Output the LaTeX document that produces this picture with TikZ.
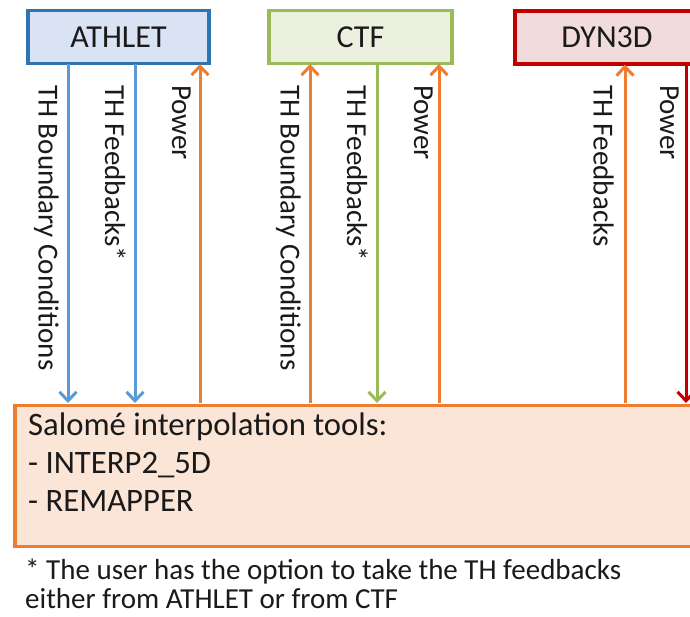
\documentclass[tikz,border=0pt]{standalone}
\usepackage{fontspec}
\setmainfont{Carlito}
\usetikzlibrary{arrows.meta}
\definecolor{athfill}{HTML}{DAE3F3}
\definecolor{athdraw}{HTML}{2E75B6}
\definecolor{blu}{HTML}{5B9BD5}
\definecolor{ctffill}{HTML}{EBF1DE}
\definecolor{ctfdraw}{HTML}{9BBB59}
\definecolor{dynfill}{HTML}{F2DCDB}
\definecolor{dyndraw}{HTML}{C00000}
\definecolor{org}{HTML}{ED7D31}
\definecolor{salfill}{HTML}{FBE5D6}
\definecolor{txt}{HTML}{1A1A1A}
\tikzset{
  codebox/.style={draw, line width=3.5pt, minimum height=53pt, text=txt, font=\fontsize{32}{38}\selectfont, inner sep=0pt},
  lab/.style={rotate=-90, anchor=north west, inner sep=0pt, text=txt, font=\fontsize{29}{34}\selectfont},
  conn/.style={line width=3pt, -{Straight Barb[length=9pt,width=17pt,line width=3pt]}}
}
\begin{document}
\begin{tikzpicture}[x=1pt,y=-1pt]
\useasboundingbox (0,0) rectangle (690,616);
\clip (0,0) rectangle (690,616);
\fill[white] (0,0) rectangle (690,616);
% boxes
\node[codebox, fill=athfill, draw=athdraw, minimum width=181pt] (ath) at (118.5,37) {ATHLET};
\node[codebox, fill=ctffill, draw=ctfdraw, minimum width=183pt] (ctf) at (360.5,37) {CTF};
\node[codebox, fill=dynfill, draw=dyndraw, minimum width=184pt] (dyn) at (607,37.5) {DYN3D};
\node[draw=org, fill=salfill, line width=3.5pt, minimum width=700pt, minimum height=141pt, anchor=north west, inner sep=0pt] (sal) at (13,403.5) {};
\node[anchor=north west, align=left, inner sep=0pt, text=txt, font=\fontsize{32.7}{38}\selectfont] (saltext) at (28,413)
  {Salomé interpolation tools:\\- INTERP2\_5D\\- REMAPPER};
% connector coordinates
\coordinate (a1t) at (68,64);  \coordinate (a1b) at (68,403);
\coordinate (a2t) at (135,64); \coordinate (a2b) at (135,403);
\coordinate (a3t) at (200,64); \coordinate (a3b) at (200,403);
\coordinate (c1t) at (310,64); \coordinate (c1b) at (310,403);
\coordinate (c2t) at (377,64); \coordinate (c2b) at (377,403);
\coordinate (c3t) at (439,64); \coordinate (c3b) at (439,403);
\coordinate (d1t) at (625,64.5); \coordinate (d1b) at (625,403);
\coordinate (d2t) at (686,64.5); \coordinate (d2b) at (686,403);
\draw[conn, blu] (a1t) -- (a1b);
\draw[conn, blu] (a2t) -- (a2b);
\draw[conn, org] (a3b) -- (a3t);
\draw[conn, org] (c1b) -- (c1t);
\draw[conn, ctfdraw] (c2t) -- (c2b);
\draw[conn, org] (c3b) -- (c3t);
\draw[conn, org] (d1b) -- (d1t);
\draw[conn, dyndraw] (d2t) -- (d2b);
% labels
\node[lab] (l1) at (59,85) {TH Boundary Conditions};
\node[lab] (l2) at (126,85) {TH Feedbacks*};
\node[lab] (l3) at (191,85) {Power};
\node[lab] (l4) at (301,85) {TH Boundary Conditions};
\node[lab] (l5) at (368,85) {TH Feedbacks*};
\node[lab] (l6) at (433,85) {Power};
\node[lab] (l7) at (614,85) {TH Feedbacks};
\node[lab] (l8) at (679,85) {Power};
% footnote
\node[anchor=north west, align=left, inner sep=0pt, text=txt, font=\fontsize{29}{29}\selectfont] (foot) at (25,559)
  {* The user has the option to take the TH feedbacks\\either from ATHLET or from CTF};
\end{tikzpicture}
\end{document}
